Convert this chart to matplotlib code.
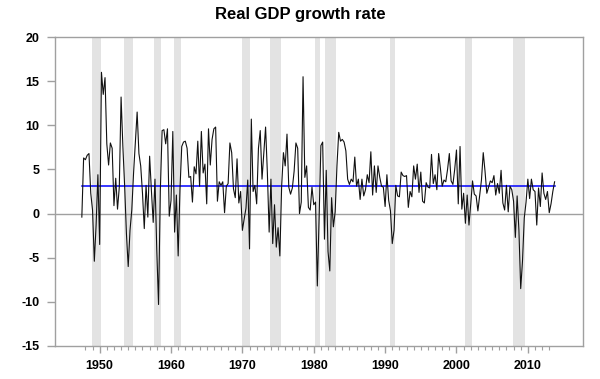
import matplotlib
matplotlib.use("Agg")
import matplotlib.pyplot as plt
import numpy as np

plt.rcParams['font.family'] = ['Liberation Sans', 'DejaVu Sans']

start_year = 1947
start_quarter = 2
gdp_growth = [
    -0.4, 6.3, 6.1,                 # 1947 Q2-Q4
    6.6, 6.8, 2.3, 0.4,             # 1948
    -5.4, -1.3, 4.4, -3.5,          # 1949
    16.0, 13.5, 15.4, 7.9,          # 1950
    5.5, 8.0, 7.4, 0.9,             # 1951
    4.0, 0.5, 3.0, 13.2,            # 1952
    7.6, 3.1, -2.3, -6.0,           # 1953
    -1.9, 0.4, 4.6, 8.1,            # 1954
    11.5, 6.8, 5.4, 2.3,            # 1955
    -1.7, 3.2, -0.4, 6.5,           # 1956
    2.6, -1.0, 3.9, -4.1,           # 1957
    -10.3, 2.6, 9.4, 9.5,           # 1958
    7.9, 9.6, -0.3, 1.5,            # 1959
    9.3, -2.1, 2.1, -4.8,           # 1960
    2.7, 7.6, 8.1, 8.2,             # 1961
    7.4, 4.1, 4.2, 1.3,             # 1962
    5.3, 4.5, 8.2, 3.1,             # 1963
    9.3, 4.6, 5.6, 1.1,             # 1964
    9.6, 5.5, 8.4, 9.6,             # 1965
    9.8, 1.4, 3.6, 3.2,             # 1966
    3.6, 0.1, 3.1, 3.4,             # 1967
    8.0, 6.9, 2.8, 1.8,             # 1968
    6.2, 1.2, 2.5, -1.9,            # 1969
    -0.6, 0.6, 3.8, -4.0,           # 1970
    10.7, 2.5, 3.2, 1.1,            # 1971
    7.4, 9.4, 3.9, 6.9,             # 1972
    9.8, 4.6, -2.1, 3.9,            # 1973
    -3.4, 1.0, -3.8, -1.6,          # 1974
    -4.8, 3.1, 6.9, 5.4,            # 1975
    9.0, 3.0, 2.2, 2.9,             # 1976
    4.8, 8.0, 7.4, 0.0,             # 1977
    1.3, 15.5, 4.1, 5.4,            # 1978
    0.7, 0.4, 3.0, 1.0,             # 1979
    1.3, -8.2, -0.5, 7.7,           # 1980
    8.1, -2.9, 4.9, -4.3,           # 1981
    -6.5, 1.8, -1.5, 0.2,           # 1982
    5.4, 9.2, 8.2, 8.4,             # 1983
    8.1, 7.1, 3.9, 3.3,             # 1984
    3.9, 3.6, 6.4, 3.1,             # 1985
    3.9, 1.6, 3.9, 2.0,             # 1986
    2.7, 4.4, 3.5, 7.0,             # 1987
    2.1, 5.4, 2.4, 5.4,             # 1988
    4.1, 3.1, 3.0, 0.8,             # 1989
    4.4, 1.5, 0.3, -3.4,            # 1990
    -1.9, 3.2, 2.0, 1.9,            # 1991
    4.7, 4.3, 4.2, 4.3,             # 1992
    0.7, 2.5, 1.9, 5.4,             # 1993
    3.9, 5.6, 2.4, 4.7,             # 1994
    1.4, 1.2, 3.5, 3.0,             # 1995
    2.9, 6.7, 3.4, 4.4,             # 1996
    2.7, 6.8, 5.1, 3.1,             # 1997
    3.8, 3.6, 5.0, 6.8,             # 1998
    3.7, 3.3, 5.0, 7.2,             # 1999
    1.1, 7.6, 0.5, 2.3,             # 2000
    -1.1, 2.1, -1.3, 1.1,           # 2001
    3.7, 2.2, 2.0, 0.3,             # 2002
    2.1, 3.8, 6.9, 4.8,             # 2003
    2.3, 3.0, 3.7, 3.5,             # 2004
    4.3, 2.1, 3.4, 2.3,             # 2005
    4.9, 1.2, 0.4, 3.2,             # 2006
    0.2, 3.1, 2.7, 1.4,             # 2007
    -2.7, 2.0, -1.9, -8.5,          # 2008
    -5.4, -0.5, 1.3, 3.9,           # 2009
    1.7, 3.9, 2.7, 2.5,             # 2010
    -1.3, 2.9, 0.8, 4.6,            # 2011
    2.3, 1.6, 2.5, 0.1,             # 2012
    1.1, 2.5, 3.6,                  # 2013 Q1-Q3
]
average_growth = 3.1

recession_peaks = ["1948Q4", "1953Q2", "1957Q3", "1960Q2", "1969Q4", "1973Q4",
                   "1980Q1", "1981Q3", "1990Q3", "2001Q1", "2007Q4"]
recession_troughs = ["1949Q4", "1954Q2", "1958Q2", "1961Q1", "1970Q4", "1975Q1",
                     "1980Q3", "1982Q4", "1991Q1", "2001Q4", "2009Q2"]

y_ticks = [20, 15, 10, 5, 0, -5, -10, -15]
x_tick_years = [1950, 1960, 1970, 1980, 1990, 2000, 2010]
title_text = "Real GDP growth rate"


def qpos(year, q):
    return year + (q - 1) / 4 + 0.25


def parse_q(s):
    return qpos(int(s[:4]), int(s[5]))


n = len(gdp_growth)
xs = np.array([qpos(start_year + (start_quarter - 1 + i) // 4,
                    (start_quarter - 1 + i) % 4 + 1) for i in range(n)])
ys = np.array(gdp_growth)

fig = plt.figure(figsize=(6.0, 3.79), dpi=100)
ax = fig.add_axes([55 / 600, 1 - 346 / 379, (583 - 55) / 600, (346 - 37) / 379])

frame_col = "#a0a0a0"
for p, t in zip(recession_peaks, recession_troughs):
    ax.axvspan(parse_q(p) - 0.125, parse_q(t) + 0.125, color="#e3e3e3", lw=0, zorder=0)

ax.axhline(0, color=frame_col, lw=1.0, zorder=1)
ax.plot([xs[0], xs[-1]], [average_growth, average_growth], color="#0000ff", lw=1.1, zorder=2)
ax.plot(xs, ys, color="#111111", lw=0.8, zorder=3)

ax.set_xlim(1943.74, 2017.73)
ax.set_ylim(-15, 20)
ax.set_yticks(y_ticks)
ax.set_yticklabels([str(v) for v in y_ticks], fontsize=9, fontweight="bold")
ax.set_xticks(x_tick_years)
ax.set_xticklabels([str(v) for v in x_tick_years], fontsize=9, fontweight="bold")
ax.set_xticks([y for y in range(1948, 2014) if y not in x_tick_years], minor=True)

for sp in ax.spines.values():
    sp.set_color(frame_col)
    sp.set_linewidth(1.0)
ax.tick_params(axis="y", which="major", length=6, color=frame_col, width=1.0, pad=5)
ax.tick_params(axis="x", which="major", length=5, color=frame_col, width=1.0, pad=5)
ax.tick_params(axis="x", which="minor", length=3, color=frame_col, width=0.8)

fig.text(0.5, 1 - 15 / 379, title_text, ha="center", va="center",
         fontsize=12, fontweight="bold")

fig.savefig("out.png", dpi=100)
